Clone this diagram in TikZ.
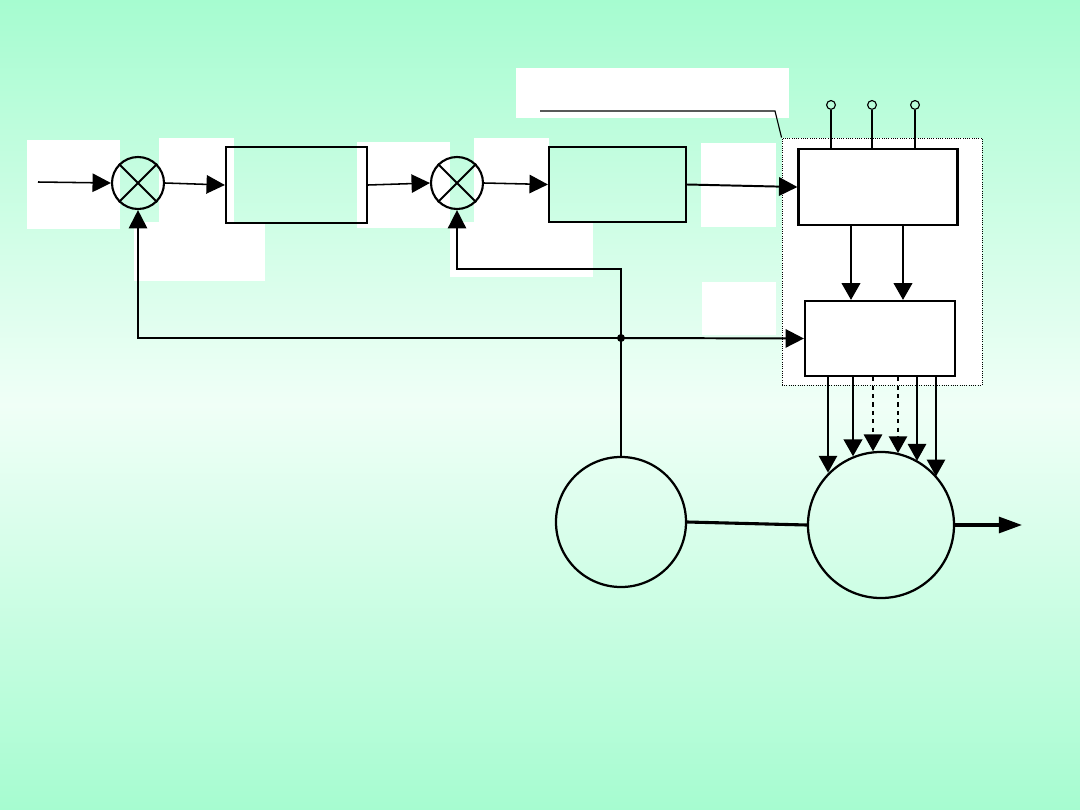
\documentclass[tikz,border=0pt]{standalone}
\usetikzlibrary{calc,positioning,arrows.meta}
\definecolor{mint}{RGB}{166,252,208}
\definecolor{pale}{RGB}{240,255,247}
\begin{document}
\begin{tikzpicture}[x=0.025cm,y=-0.025cm,
  blk/.style={draw=black,line width=1.5pt,inner sep=0pt,rectangle},
  sum/.style={draw=black,line width=1.5pt,inner sep=0pt,circle,minimum size=1.3cm},
  ball/.style={draw=black,line width=1.6pt,inner sep=0pt,circle},
  term/.style={draw=black,line width=0.8pt,inner sep=0pt,circle,minimum size=0.22cm},
  arr/.style={line width=1.1pt,-{Triangle[length=0.46cm,width=0.46cm]}},
  thinarr/.style={line width=1.1pt,-{Triangle[length=0.42cm,width=0.46cm]}},
  boldarr/.style={line width=1.8pt,-{Triangle[length=0.42cm,width=0.46cm]}},
  dasharr/.style={line width=1.1pt,dashed,-{Triangle[length=0.42cm,width=0.46cm]}}]
\useasboundingbox (0,0) rectangle (1080,810);
\shade[top color=mint,bottom color=mint,middle color=pale] (0,0) rectangle (1080,810);
\fill[white] (27,140) rectangle (120,229);
\fill[white] (159,138) rectangle (234,222);
\fill[white] (134,222) rectangle (265,281);
\fill[white] (357,142) rectangle (450,228);
\fill[white] (474,138) rectangle (549,222);
\fill[white] (450,222) rectangle (593,277);
\fill[white] (516,68) rectangle (789,118);
\fill[white] (701,143) rectangle (776,227);
\fill[white] (702,282) rectangle (776,335);
\node[draw=black,line width=0.6pt,densely dotted,fill=white,minimum width=5cm,minimum height=6.175cm] (grp) at (882,261.5) {};
\node[sum] (sum1) at (138,183) {};
\node[blk,minimum width=3.525cm,minimum height=1.9cm] (blk1) at (296.5,185) {};
\node[sum] (sum2) at (457,183) {};
\node[blk,minimum width=3.425cm,minimum height=1.875cm] (blk2) at (617.5,184.5) {};
\node[blk,minimum width=3.975cm,minimum height=1.9cm] (ctl) at (878,187) {};
\node[blk,minimum width=3.75cm,minimum height=1.875cm] (drv) at (880,338.5) {};
\node[ball,minimum size=3.25cm] (gen) at (621,522) {};
\node[ball,minimum size=3.65cm] (mot) at (881,525) {};
\foreach \s in {sum1,sum2}
  \draw[line width=1.3pt] (\s.north west) -- (\s.south east) (\s.north east) -- (\s.south west);
\foreach \dx [count=\i] in {-47,-6,37}{
  \node[term] (pin\i) at ($(ctl.north)+(\dx,-43)$) {};
  \draw[line width=1.3pt] (pin\i.south) -- ($(ctl.north)+(\dx,0)$);
}
\coordinate (in) at (38,182);
\coordinate (jn) at (621,338);
\coordinate (tap) at (621,269);
\coordinate (lead) at (540,111);
\coordinate (bend) at (775,111);
\coordinate (out) at (1022,525);
\draw[arr] (in) -- (sum1.west);
\draw[arr] (sum1.east) -- (blk1.west);
\draw[arr] (blk1.east) -- (sum2.west);
\draw[arr] (sum2.east) -- (blk2.west);
\draw[arr,line width=1.4pt] (blk2.east) -- (ctl.west);
\draw[arr] (gen.north) -- (tap) -| (sum2.south);
\draw[arr,line width=1.4pt] (jn) -| (sum1.south);
\draw[arr,line width=1.4pt] (jn) -- (drv.west);
\fill (jn) circle[radius=0.1cm];
\draw[line width=0.8pt] (lead) -- (bend) -- (grp.north west);
\foreach \dx in {-27,25}
  \draw[boldarr] ($(ctl.south)+(\dx,0)$) coordinate (p) -- (p |- drv.north);
\foreach \dx/\ls in {-52/thinarr,-27/boldarr,-7/dasharr,18/dasharr,37/thinarr,56/thinarr}{
  \pgfmathsetmacro\ang{acos((\dx-1)/74)}
  \draw[\ls] ($(drv.south)+(\dx,0)$) coordinate (q) -- (q |- mot.\ang);
}
\draw[line width=2.2pt] (gen.east) -- (mot.west);
\draw[line width=2.2pt,-{Triangle[length=0.58cm,width=0.4cm]}] (mot.east) -- (out);
\end{tikzpicture}
\end{document}
